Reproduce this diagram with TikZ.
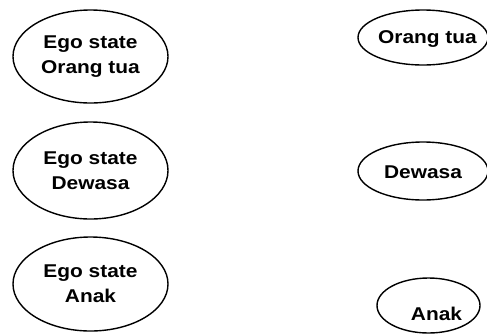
\documentclass[tikz,border=0pt]{standalone}
\usepackage{fontspec}
\newfontfamily\egofont{Liberation Sans}[FakeStretch=1.13]
\usetikzlibrary{shapes.geometric}

\begin{document}
\begin{tikzpicture}[x=1pt, y=-1pt,
  txt/.style={font=\egofont\bfseries\fontsize{18.5}{25}\selectfont, align=center},
  ego/.style={ellipse, draw, line width=1.4pt, inner sep=0pt, txt}]
\useasboundingbox (0,0) rectangle (487,333);
% ego states, left column
\node[ego, minimum width=155pt, minimum height=93pt] (egoot) at (90.5,56.5) {Ego state\\Orang tua};
\node[ego, minimum width=155pt, minimum height=97pt] (egodw) at (90.5,170.5) {Ego state\\Dewasa};
\node[ego, minimum width=155pt, minimum height=94pt] (egoan) at (90.5,284) {Ego state\\Anak};
% right column
\node[ego, minimum width=130pt, minimum height=55pt,
  label={[txt, xshift=4.5pt, yshift=-1pt]center:Orang tua}] (ot) at (423,37.5) {};
\node[ego, minimum width=130pt, minimum height=58pt,
  label={[txt, yshift=-1pt]center:Dewasa}] (dw) at (423,171) {};
\node[ego, minimum width=103pt, minimum height=55pt,
  label={[txt, xshift=8pt, yshift=-8pt]center:Anak}] (an) at (428.5,305.5) {};
\end{tikzpicture}
\end{document}
